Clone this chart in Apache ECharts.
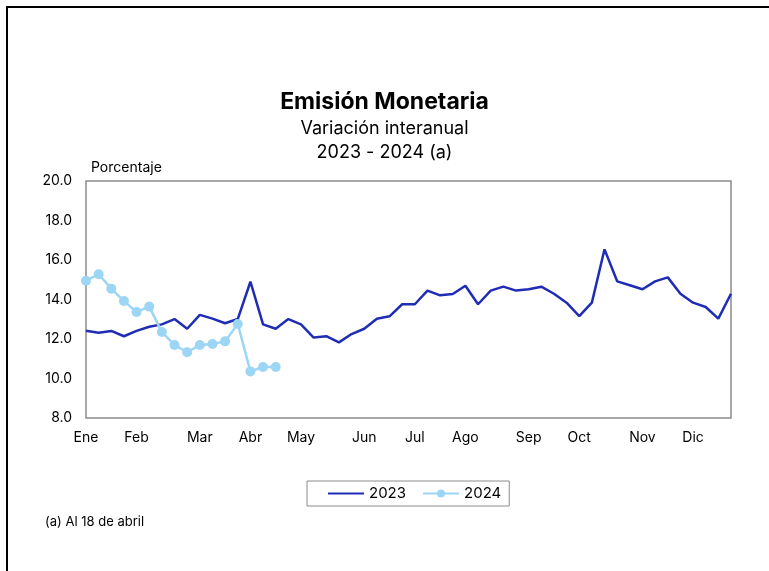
<!DOCTYPE html>
<html>
<head>
<meta charset="utf-8">
<script src="https://cdn.jsdelivr.net/npm/echarts@6/dist/echarts.min.js"></script>
<style>
  html, body { margin: 0; padding: 0; background: #fff; }
  #chart { width: 769px; height: 571px; }
</style>
</head>
<body>
<div id="chart"></div>
<script>
  // semanas del año, etiqueta de mes en la primera semana de cada mes
  var monthLabels = ['Ene', 'Feb', 'Mar', 'Abr', 'May', 'Jun', 'Jul', 'Ago', 'Sep', 'Oct', 'Nov', 'Dic'];
  var monthWeeks = [0, 4, 9, 13, 17, 22, 26, 30, 35, 39, 44, 48];

  var serie2023 = [12.42, 12.32, 12.41, 12.14, 12.41, 12.62, 12.74, 13.01, 12.52, 13.22,
    13.03, 12.80, 13.01, 14.90, 12.74, 12.52, 13.01, 12.74, 12.07, 12.14,
    11.83, 12.25, 12.52, 13.03, 13.15, 13.76, 13.76, 14.45, 14.21, 14.28,
    14.70, 13.76, 14.45, 14.65, 14.45, 14.52, 14.65, 14.29, 13.84, 13.16,
    13.84, 16.54, 14.92, 14.72, 14.52, 14.92, 15.12, 14.29, 13.84, 13.62,
    13.03, 14.29];

  var serie2024 = [14.95, 15.28, 14.55, 13.92, 13.37, 13.64, 12.35, 11.70, 11.33, 11.70,
    11.75, 11.88, 12.76, 10.36, 10.58, 10.58];

  var yTicks = { min: 8, max: 20, step: 2 };

  var semanas = serie2023.map(function (v, i) {
    var k = monthWeeks.indexOf(i);
    return k >= 0 ? monthLabels[k] : 'S' + (i + 1);
  });

  var font = 'Inter, "Noto Sans", sans-serif';
  var chart = echarts.init(document.getElementById('chart'));

  var option = {
    animation: false,
    backgroundColor: '#fff',
    textStyle: { fontFamily: font, color: '#000' },
    title: {
      text: 'Emisión Monetaria',
      subtext: 'Variación interanual\n2023 - 2024 (a)',
      left: 'center',
      top: 86,
      itemGap: 3,
      textStyle: { fontFamily: font, fontSize: 23, fontWeight: 'bold', color: '#000' },
      subtextStyle: { fontFamily: font, fontSize: 18, color: '#000', lineHeight: 24 }
    },
    grid: {
      left: 86, right: 38, top: 181, bottom: 153,
      show: true, borderColor: '#8c8c8c', borderWidth: 1.5
    },
    legend: {
      data: [
        { name: '2023', itemStyle: { color: 'rgba(0,0,0,0)', borderWidth: 0 } },
        { name: '2024' }
      ],
      left: 307,
      top: 481,
      borderColor: '#8c8c8c',
      borderWidth: 1,
      padding: [5, 8, 5, 20],
      itemWidth: 36,
      itemHeight: 10,
      itemGap: 16,
      textStyle: { fontFamily: font, fontSize: 15, color: '#000' }
    },
    xAxis: {
      type: 'category',
      data: semanas,
      boundaryGap: false,
      axisLine: { show: false },
      axisTick: { show: false },
      axisLabel: {
        interval: function (i) { return monthWeeks.indexOf(i) >= 0; },
        margin: 13,
        fontSize: 14,
        color: '#000',
        fontFamily: font
      },
      splitLine: { show: false }
    },
    yAxis: {
      type: 'value',
      min: yTicks.min,
      max: yTicks.max,
      interval: yTicks.step,
      axisLine: { show: false },
      axisTick: { show: false },
      splitLine: { show: false },
      axisLabel: {
        margin: 14,
        fontSize: 14,
        color: '#000',
        fontFamily: font,
        formatter: function (v) { return v.toFixed(1); }
      }
    },
    series: [
      {
        name: '2023',
        type: 'line',
        data: serie2023,
        symbol: 'none',
        lineStyle: { color: '#1f2db5', width: 2.5 },
        itemStyle: { color: '#1f2db5' }
      },
      {
        name: '2024',
        type: 'line',
        data: serie2024,
        symbol: 'circle',
        symbolSize: 10,
        showAllSymbol: true,
        lineStyle: { color: '#9dd5f5', width: 2.5 },
        itemStyle: { color: '#9dd5f5' }
      }
    ],
    graphic: [
      {
        type: 'rect',
        shape: { x: 7, y: 7, width: 800, height: 620 },
        style: { fill: 'none', stroke: '#000', lineWidth: 2 }
      },
      {
        type: 'text',
        left: 91, top: 161,
        style: { text: 'Porcentaje', font: '14px ' + font, fill: '#000' }
      },
      {
        type: 'text',
        left: 45, top: 516,
        style: { text: '(a) Al 18 de abril', font: '13px ' + font, fill: '#000' }
      }
    ]
  };

  chart.setOption(option);
</script>
</body>
</html>
